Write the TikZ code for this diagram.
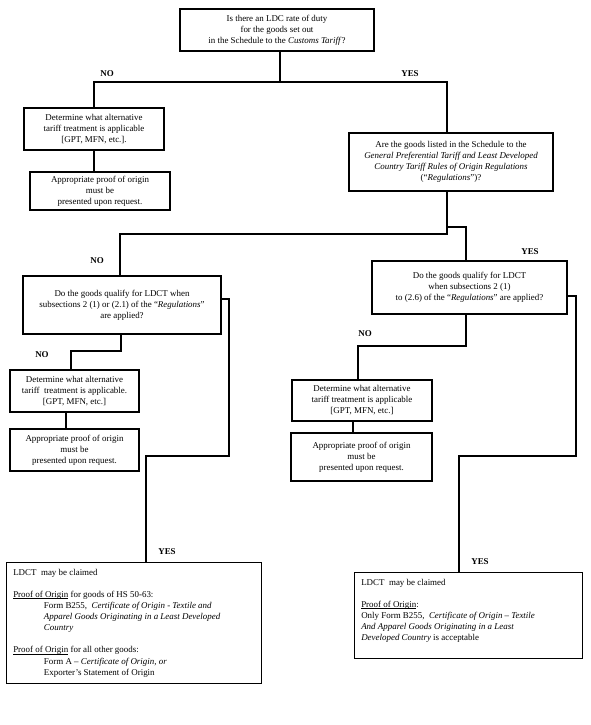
\documentclass[tikz,border=0pt]{standalone}
\usepackage{fontspec}
\setmainfont{Liberation Serif}
\newcommand\myul[1]{\setbox0\hbox{#1}\rlap{\rule[-1.1pt]{\wd0}{0.45pt}}\box0\relax}
\begin{document}
\begin{tikzpicture}[x=0.75pt,y=-0.75pt,
  box/.style={draw, line width=0.85pt, align=center, inner sep=0pt, font=\fontsize{6.7}{8.3}\selectfont},
  txt/.style={align=left, inner sep=0pt, anchor=north west, font=\fontsize{6.7}{8.3}\selectfont},
  conn/.style={line width=0.8pt},
  thickconn/.style={line width=1.6pt},
  lbl/.style={font=\fontsize{6.7}{8.3}\selectfont\bfseries, inner sep=0pt}]
\useasboundingbox (0,0) rectangle (590,725);

% boxes
\node[box, minimum width=194*0.75pt, minimum height=42*0.75pt] (B1) at (277,30)
  {Is there an LDC rate of duty\\ for the goods set out\\ in the Schedule to the \textit{Customs Tariff}?};
\node[box, minimum width=140*0.75pt, minimum height=42*0.75pt] (B2) at (94,129)
  {Determine what alternative\\ tariff treatment is applicable\\ {[}GPT, MFN, etc.{]}.};
\node[box, minimum width=140*0.75pt, minimum height=38*0.75pt] (B3) at (100,191)
  {Appropriate proof of origin\\ must be\\ presented upon request.};
\node[box, minimum width=204*0.75pt, minimum height=58*0.75pt] (B4) at (451,162)
  {Are the goods listed in the Schedule to the\\ \textit{General Preferential Tariff and Least Developed}\\ \textit{Country Tariff Rules of Origin Regulations}\\ (“\textit{Regulations}”)?};
\node[box, minimum width=198*0.75pt, minimum height=58*0.75pt] (B5) at (122,305)
  {Do the goods qualify for LDCT when\\ subsections 2 (1) or (2.1) of the “\textit{Regulations}”\\ are applied?};
\node[box, minimum width=195*0.75pt, minimum height=53*0.75pt] (B6) at (469.5,287.5)
  {Do the goods qualify for LDCT\\ when subsections 2 (1)\\ to (2.6) of the “\textit{Regulations}” are applied?};
\node[box, minimum width=129*0.75pt, minimum height=42*0.75pt] (B7) at (74.5,391)
  {Determine what alternative\\ tariff~ treatment is applicable.\\ {[}GPT, MFN, etc.{]}};
\node[box, minimum width=129*0.75pt, minimum height=42*0.75pt] (B8) at (74.5,450)
  {Appropriate proof of origin\\ must be\\ presented upon request.};
\node[box, minimum width=140*0.75pt, minimum height=41*0.75pt] (B9) at (362,400.5)
  {Determine what alternative\\ tariff treatment is applicable\\ {[}GPT, MFN, etc.{]}};
\node[box, minimum width=141*0.75pt, minimum height=48*0.75pt] (B10) at (361.5,457)
  {Appropriate proof of origin\\ must be\\ presented upon request.};
\node[box, anchor=north west, minimum width=255*0.75pt, minimum height=121*0.75pt] (B11) at (6,562) {};
\node[box, anchor=north west, minimum width=228*0.75pt, minimum height=86*0.75pt] (B12) at (354,572) {};

\node[txt] (B11t) at (13,569) {LDCT~ may be claimed\\[8.3pt]
  \myul{Proof of Origin} for goods of HS 50-63:\\
  \hspace*{23pt}Form B255,~ \textit{Certificate of Origin - Textile and}\\
  \hspace*{23pt}\textit{Apparel Goods Originating in a Least Developed}\\
  \hspace*{23pt}\textit{Country}\\[8.3pt]
  \myul{Proof of Origin} for all other goods:\\
  \hspace*{23pt}Form A -- \textit{Certificate of Origin, or}\\
  \hspace*{23pt}Exporter’s Statement of Origin};
\node[txt] (B12t) at (361,579) {LDCT~ may be claimed\\[8.3pt]
  \myul{Proof of Origin}:\\
  Only Form B255,~ \textit{Certificate of Origin -- Textile}\\
  \textit{And Apparel Goods Originating in a Least}\\
  \textit{Developed Country} is acceptable};

% connectors
\coordinate (j1) at (280,82);
\coordinate (j2) at (94,82);
\coordinate (j3) at (447,82);
\draw[conn] (B1.south -| j1) -- (j1);
\draw[conn] (B2.north) |- (j3) -- (j3 |- B4.north);
\draw[conn] (B2.south) -- (B2.south |- B3.north);

\coordinate (k1) at (447,234);
\coordinate (k2) at (120,234);
\coordinate (k3) at (447,227);
\coordinate (k4) at (466,227);
\draw[conn] (B4.south -| k1) -- (k1) -- (k2) -- (k2 |- B5.north);
\draw[conn] (k3) -- (k4) -- (k4 |- B6.north);

\coordinate (m1) at (229,299);
\coordinate (m2) at (229,456);
\coordinate (m3) at (146,456);
\draw[conn] (B5.east |- m1) -- (m1) -- (m2) -- (m3) -- (m3 |- B11.north);

\coordinate (n1) at (121,351);
\coordinate (n2) at (71,351);
\draw[conn] (B5.south -| n1) -- (n1) -- (n2) -- (n2 |- B7.north);
\coordinate (p1) at (66,420);
\draw[thickconn] (B7.south -| p1) -- (p1 |- B8.north);

\coordinate (q1) at (576,296);
\coordinate (q2) at (576,456);
\coordinate (q3) at (459,456);
\draw[conn] (B6.east |- q1) -- (q1) -- (q2) -- (q3) -- (q3 |- B12.north);

\coordinate (r1) at (466,346);
\coordinate (r2) at (358,346);
\draw[conn] (B6.south -| r1) -- (r1) -- (r2) -- (r2 |- B9.north);
\coordinate (s1) at (353,427);
\draw[thickconn] (B9.south -| s1) -- (s1 |- B10.north);

% labels
\node[lbl] (L1) at (107,74) {NO};
\node[lbl] (L2) at (410,74) {YES};
\node[lbl] (L3) at (97,261) {NO};
\node[lbl] (L4) at (530,252) {YES};
\node[lbl] (L5) at (42,355) {NO};
\node[lbl] (L6) at (365,334) {NO};
\node[lbl] (L7) at (167,552) {YES};
\node[lbl] (L8) at (480,562) {YES};
\end{tikzpicture}
\end{document}
